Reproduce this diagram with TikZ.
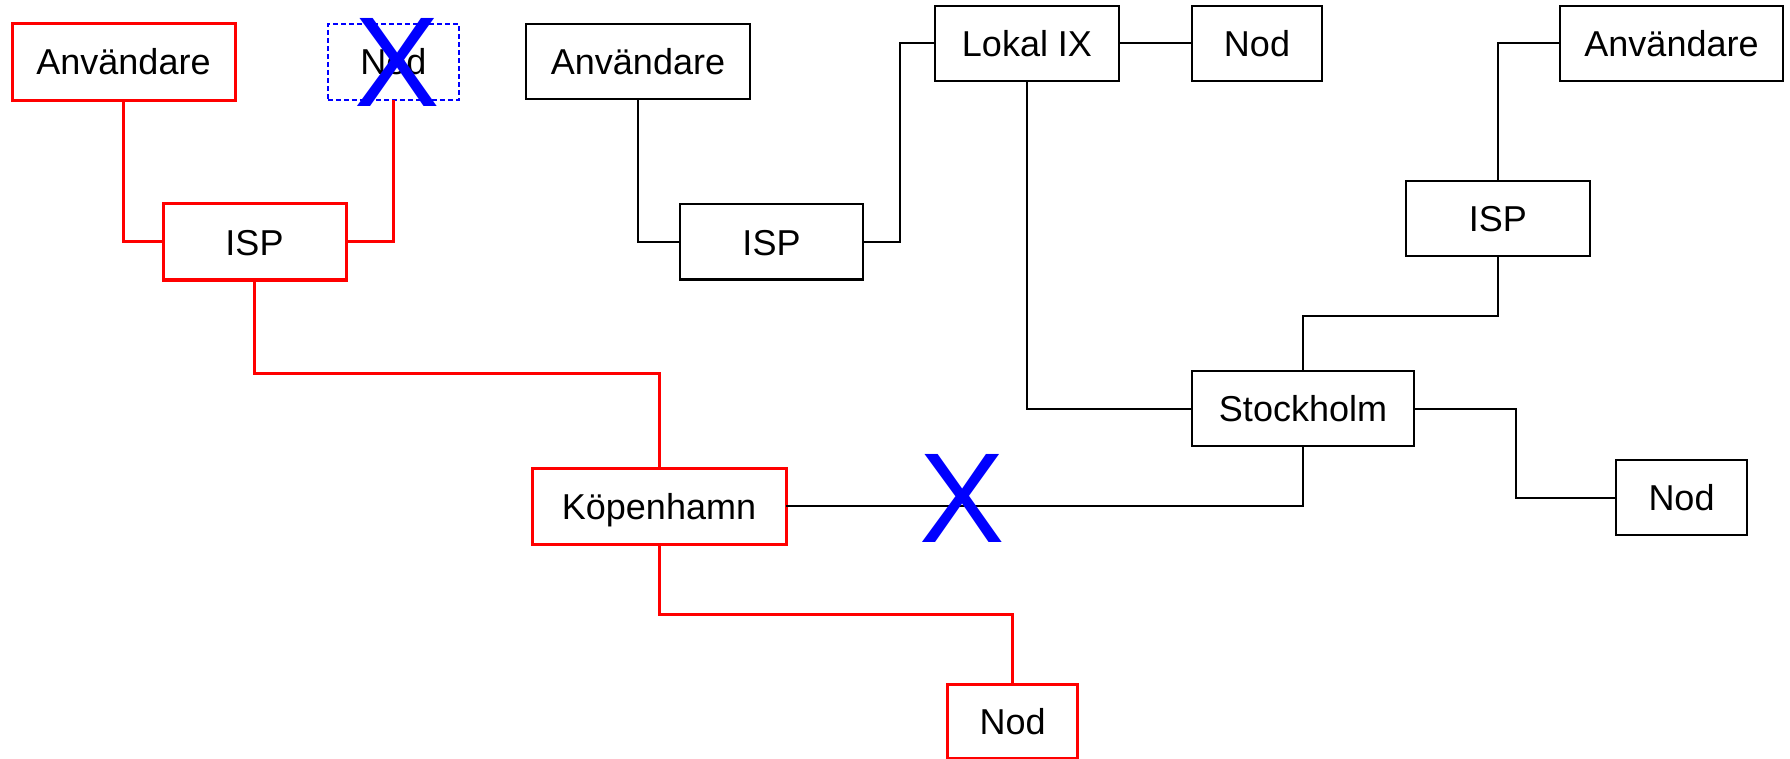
\documentclass[tikz,border=0pt]{standalone}
\usepackage{fontspec}
\setmainfont{Liberation Sans}
\begin{document}
\begin{tikzpicture}[x=1pt,y=-1pt,
  box/.style={draw=black, line width=2pt, inner sep=0pt, outer sep=0pt,
    minimum height=75pt, font=\fontsize{36}{43}\selectfont,
    text height=26pt, text depth=0pt},
  hot/.style={box, draw=red, line width=3pt},
  gone/.style={box, draw=blue, line width=1.5pt, dash pattern=on 5pt off 3pt},
  wire/.style={line width=2pt, black},
  hotwire/.style={line width=3pt, red},
  cut/.style={text=blue, inner sep=0pt, outer sep=0pt,
    font=\fontsize{128}{128}\selectfont}]

\useasboundingbox (0,0) rectangle (1790,759);

% left network (highlighted path)
\node[hot, minimum width=223pt, minimum height=77pt] (ua1) at (123.5,62) {Användare};
\node[gone, minimum width=131pt, minimum height=76pt] (nod1) at (393.3,62) {Nod};
\node[hot, minimum width=183pt, minimum height=76pt] (isp1) at (254.5,242) {ISP};
\node[hot, minimum width=254pt, minimum height=76pt] (kop) at (659,506) {Köpenhamn};
\node[hot, minimum width=130pt, minimum height=74pt] (nod2) at (1012.7,721) {Nod};

% middle and right network
\node[box, minimum width=224pt] (ua2) at (638,62) {Användare};
\node[box, minimum width=183pt] (isp2) at (771.5,242) {ISP};
\node[box, minimum width=184pt] (lix) at (1027,43.3) {Lokal IX};
\node[box, minimum width=130pt] (nod3) at (1257,43.3) {Nod};
\node[box, minimum width=223pt] (ua3) at (1671.5,43.3) {Användare};
\node[box, minimum width=184pt] (isp3) at (1497.8,219) {ISP};
\node[box, minimum width=222pt] (sth) at (1303,408.5) {Stockholm};
\node[box, minimum width=131pt] (nod4) at (1681.5,497.5) {Nod};

% bend points of the orthogonal connectors
\coordinate (j1) at (0,373);
\coordinate (j2) at (0,614);
\coordinate (j3) at (899.6,0);
\coordinate (j4) at (0,316);
\coordinate (j5) at (1516,0);

% highlighted connectors
\draw[hotwire] (ua1.south) |- (isp1.west);
\draw[hotwire] (isp1.east) -| (nod1.south);
\draw[hotwire] (isp1.south) -- (isp1.south |- j1) -| (kop.north);
\draw[hotwire] (kop.south) -- (kop.south |- j2) -| (nod2.north);

% plain connectors
\draw[wire] (kop.east) -| (sth.south);
\draw[wire] (ua2.south) |- (isp2.west);
\draw[wire] (isp2.east) -- (isp2.east -| j3) |- (lix.west);
\draw[wire] (lix.east) -- (nod3.west);
\draw[wire] (lix.south) |- (sth.west);
\draw[wire] (sth.north) -- (sth.north |- j4) -| (isp3.south);
\draw[wire] (isp3.north) |- (ua3.west);
\draw[wire] (sth.east) -- (sth.east -| j5) |- (nod4.west);

% broken links
\node[cut] (x1) at (397,62.5) {X};
\node[cut] (x2) at (962,498) {X};
\end{tikzpicture}
\end{document}
